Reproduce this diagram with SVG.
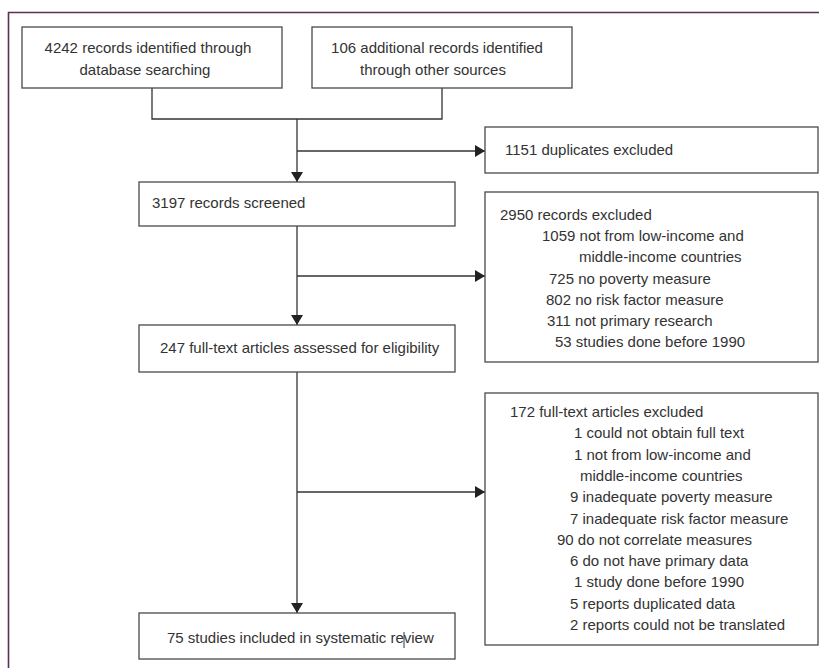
<svg xmlns="http://www.w3.org/2000/svg" width="819" height="668" viewBox="0 0 819 668">
<style>
.box{fill:#fff;stroke:#4a4a4a;stroke-width:1.3}
.t{font-family:"Liberation Sans",Arial,sans-serif;font-size:15px;fill:#333}
.c{fill:none;stroke:#333;stroke-width:1.3}
</style>
<defs>
<marker id="ah" markerUnits="userSpaceOnUse" markerWidth="10" markerHeight="12" refX="10" refY="6" orient="auto">
<path d="M0,0 L10,6 L0,12 z" fill="#222"/>
</marker>
</defs>
<rect width="819" height="668" fill="#fff"/>
<path d="M8.5,668 V12.5 H819" fill="none" stroke="#5e2f4e" stroke-width="1.6"/>
<g id="connectors">
<path class="c" d="M152,88 V119 H442 V88"/>
<path class="c" d="M297,119 V182" marker-end="url(#ah)"/>
<path class="c" d="M297,151 H485" marker-end="url(#ah)"/>
<path class="c" d="M297,226 V325" marker-end="url(#ah)"/>
<path class="c" d="M297,276 H485" marker-end="url(#ah)"/>
<path class="c" d="M297,372 V613" marker-end="url(#ah)"/>
<path class="c" d="M297,492 H485" marker-end="url(#ah)"/>
</g>
<g id="n1">
<rect class="box" x="22" y="27" width="260" height="61"/>
<text class="t" x="148" y="53" text-anchor="middle">4242 records identified through</text>
<text class="t" x="145" y="75" text-anchor="middle">database searching</text>
</g>
<g id="n2">
<rect class="box" x="312" y="27" width="260" height="61"/>
<text class="t" x="437" y="53" text-anchor="middle">106 additional records identified</text>
<text class="t" x="433" y="75" text-anchor="middle">through other sources</text>
</g>
<g id="n3">
<rect class="box" x="485" y="127" width="333" height="46"/>
<text class="t" x="505" y="155">1151 duplicates excluded</text>
</g>
<g id="n4">
<rect class="box" x="139" y="182" width="316" height="44"/>
<text class="t" x="152" y="208">3197 records screened</text>
</g>
<g id="n5">
<rect class="box" x="485" y="192" width="333" height="170"/>
<text class="t" x="500" y="220">2950 records excluded</text>
<text class="t" x="542" y="241">1059 not from low-income and</text>
<text class="t" x="579" y="262">middle-income countries</text>
<text class="t" x="549" y="284">725 no poverty measure</text>
<text class="t" x="546" y="305">802 no risk factor measure</text>
<text class="t" x="547" y="326">311 not primary research</text>
<text class="t" x="555" y="347">53 studies done before 1990</text>
</g>
<g id="n6">
<rect class="box" x="139" y="325" width="316" height="47"/>
<text class="t" x="160" y="353">247 full-text articles assessed for eligibility</text>
</g>
<g id="n7">
<rect class="box" x="485" y="393" width="333" height="252"/>
<text class="t" x="510" y="417">172 full-text articles excluded</text>
<text class="t" x="574" y="438">1 could not obtain full text</text>
<text class="t" x="574" y="460">1 not from low-income and</text>
<text class="t" x="580" y="481">middle-income countries</text>
<text class="t" x="570" y="502">9 inadequate poverty measure</text>
<text class="t" x="570" y="524">7 inadequate risk factor measure</text>
<text class="t" x="557" y="545">90 do not correlate measures</text>
<text class="t" x="570" y="566">6 do not have primary data</text>
<text class="t" x="574" y="587">1 study done before 1990</text>
<text class="t" x="570" y="609">5 reports duplicated data</text>
<text class="t" x="570" y="630">2 reports could not be translated</text>
</g>
<g id="n8">
<rect class="box" x="139" y="613" width="316" height="46"/>
<text class="t" x="167" y="643">75 studies included in systematic review</text>
<line x1="404" y1="632" x2="404" y2="648" stroke="#2a3550" stroke-width="1"/>
</g>
</svg>
